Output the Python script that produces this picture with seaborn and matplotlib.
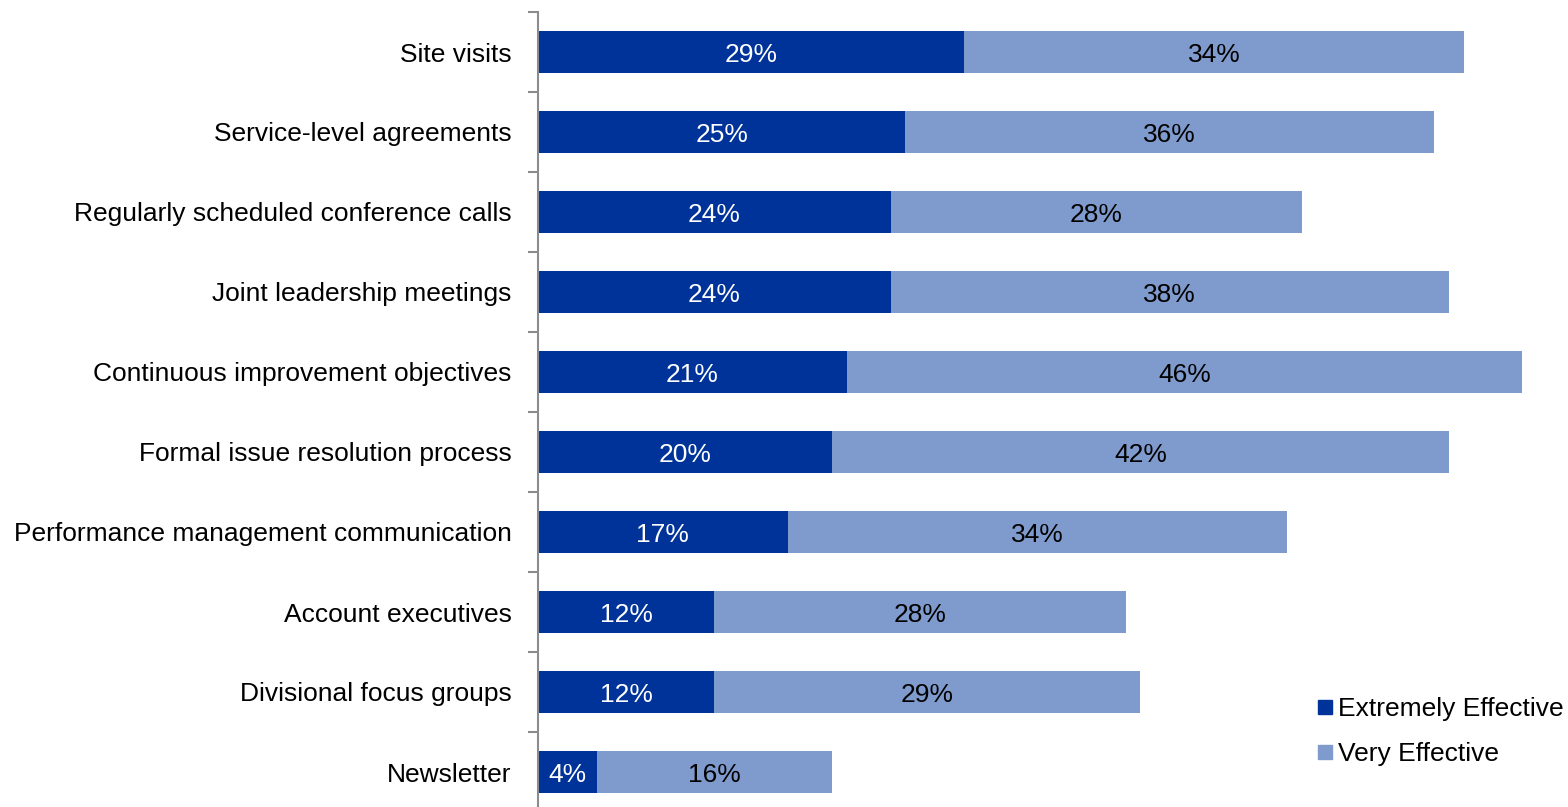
import matplotlib
matplotlib.use("Agg")
import matplotlib.pyplot as plt
from matplotlib.lines import Line2D
from matplotlib.ticker import FixedLocator, NullLocator
import seaborn as sns
import pandas as pd
import numpy as np

categories = [
    "Site visits",
    "Service-level agreements",
    "Regularly scheduled conference calls",
    "Joint leadership meetings",
    "Continuous improvement objectives",
    "Formal issue resolution process",
    "Performance management communication",
    "Account executives",
    "Divisional focus groups",
    "Newsletter",
]
extremely_effective = [29, 25, 24, 24, 21, 20, 17, 12, 12, 4]
very_effective = [34, 36, 28, 38, 46, 42, 34, 28, 29, 16]
series_names = ["Extremely Effective", "Very Effective"]

DARK = "#003399"
LIGHT = "#7F9ACC"
FS = 19

sns.set_theme(style="white")
plt.rcParams["font.family"] = ["Liberation Sans", "DejaVu Sans"]
plt.rcParams["text.color"] = "black"

df = pd.DataFrame({
    "category": categories,
    "extreme": extremely_effective,
    "very": very_effective,
})
df["total"] = df["extreme"] + df["very"]

fig = plt.figure(figsize=(15.68, 8.07), dpi=100)
ax = fig.add_axes([538 / 1568, -5 / 807, 1030 / 1568, 800 / 807])

# stacked bars: full total in light blue, "extremely" share on top in dark blue
sns.barplot(data=df, y="category", x="total", color=LIGHT, orient="h",
            width=0.525, saturation=1, linewidth=0, ax=ax)
sns.barplot(data=df, y="category", x="extreme", color=DARK, orient="h",
            width=0.525, saturation=1, linewidth=0, ax=ax)

for i, (e, v) in enumerate(zip(extremely_effective, very_effective)):
    ax.text(e / 2, i, f"{e}%", color="white", ha="center", va="center_baseline", fontsize=FS)
    ax.text(e + v / 2, i, f"{v}%", color="black", ha="center", va="center_baseline", fontsize=FS)

ax.set_xlim(0, 70.1)
ax.set_ylim(len(categories) - 0.5, -0.5)
ax.set_xlabel("")
ax.set_ylabel("")
ax.xaxis.set_major_locator(NullLocator())

for side in ["top", "right", "bottom"]:
    ax.spines[side].set_visible(False)
ax.spines["left"].set_color("#8C8C8C")
ax.spines["left"].set_linewidth(1.5)

ax.tick_params(axis="y", which="major", length=0, pad=19, labelsize=FS, labelcolor="black")
ax.yaxis.set_minor_locator(FixedLocator(np.arange(-0.5, len(categories), 1.0)))
ax.tick_params(axis="y", which="minor", length=7, width=1.5, color="#8C8C8C", left=True)

handles = [
    Line2D([], [], marker="s", linestyle="", markersize=10, color=DARK),
    Line2D([], [], marker="s", linestyle="", markersize=10, color=LIGHT),
]
fig.legend(handles, series_names, loc="upper left", bbox_to_anchor=(1317 / 1568, 1 - 697 / 807),
           frameon=False, fontsize=FS, handlelength=0.6, handletextpad=0.2,
           labelspacing=0.8, borderaxespad=0, borderpad=0, labelcolor="black")

fig.savefig("out.png", dpi=100)
